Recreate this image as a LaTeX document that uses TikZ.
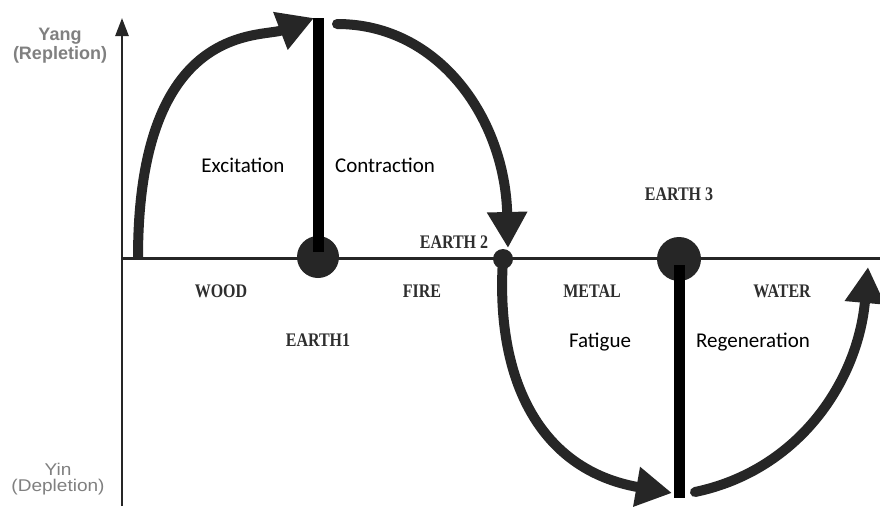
\documentclass[tikz,border=0pt]{standalone}
\usepackage{fontspec}
\setmainfont{Liberation Serif}
\newfontfamily\calibfont{Carlito}
\newfontfamily\arialfont{Liberation Sans}
\usetikzlibrary{arrows.meta}
\definecolor{ink}{HTML}{262626}
\definecolor{axisgray}{HTML}{808080}
\definecolor{labink}{HTML}{2E2E2E}
\newcommand{\tallcaps}[1]{\scalebox{1}[1.2]{#1}}
\newcommand{\wideyin}[1]{\scalebox{1.12}[1]{#1}}
\begin{document}
\begin{tikzpicture}[x=1pt,y=-1pt,
  axisline/.style={draw=ink,line width=2.6pt},
  flow/.style={draw=ink,line width=10pt,-{Triangle[length=36pt,width=38pt]}},
  dot/.style={circle,fill=ink,draw=none,inner sep=0pt},
  bar/.style={draw=black,line width=11pt,line cap=butt},
  callab/.style={font=\calibfont\fontsize{21}{25}\selectfont,text=black,anchor=base,inner sep=0pt},
  serlab/.style={font=\fontsize{16}{19}\selectfont\bfseries,text=labink,anchor=base,inner sep=0pt},
  yanglab/.style={font=\arialfont\bfseries\fontsize{18}{21}\selectfont,text=axisgray,anchor=base,inner sep=0pt},
  yinlab/.style={font=\arialfont\fontsize{17}{20}\selectfont,text=axisgray,anchor=base,inner sep=0pt}
]
\useasboundingbox (0,0) rectangle (880,506);
\fill[white] (0,0) rectangle (880,506);

% axes
\coordinate (ybot) at (122,506);
\coordinate (ytop) at (122,18);
\coordinate (xl) at (122,258.5);
\coordinate (xr) at (880,258.5);
\draw[axisline,-{Triangle[length=18pt,width=13pt]}] (ybot) -- (ytop);
\draw[axisline] (xl) -- (xr);

% flow arcs
\coordinate (a1s) at (138,258);
\coordinate (a1e) at (314,18);
\coordinate (a2s) at (337,24);
\coordinate (a2e) at (508,248);
\coordinate (a3s) at (503,259);
\coordinate (a3e) at (672,493);
\coordinate (a4s) at (695,492);
\coordinate (a4e) at (868,267);
\draw[flow] (a1s) .. controls (138,20) and (262,38) .. (a1e);
\draw[flow,line cap=round] (a2s) .. controls (440,24) and (505,120) .. (a2e);
\draw[flow] (a3s) .. controls (495,380) and (540,470) .. (a3e);
\draw[flow,line cap=round] (a4s) .. controls (800,470) and (858,380) .. (a4e);

% earth dots
\node[dot,minimum size=42pt] (e1) at (318,257) {};
\node[dot,minimum size=20pt] (e2) at (503,259) {};
\node[dot,minimum size=44pt] (e3) at (679,259) {};

% black bars
\coordinate (b1t) at (318,18);
\coordinate (b1b) at (318,252);
\coordinate (b2t) at (679,265);
\coordinate (b2b) at (679,498);
\draw[bar] (b1t) -- (b1b);
\draw[bar] (b2t) -- (b2b);

% axis labels
\node[yanglab] (yang) at (60,40) {Yang};
\node[yanglab] (repl) at (60,59) {(Repletion)};
\node[yinlab] (yin) at (58,475) {\wideyin{Yin}};
\node[yinlab] (depl) at (58,491) {\wideyin{(Depletion)}};

% phase labels
\node[callab] (exc) at (243,172) {Excitation};
\node[callab] (con) at (385,172) {Contraction};
\node[callab] (fat) at (600,347) {Fatigue};
\node[callab] (reg) at (753,347) {Regeneration};

% element labels
\node[serlab] (earth2) at (454,248) {\tallcaps{EARTH 2}};
\node[serlab] (earth3) at (679,200) {\tallcaps{EARTH 3}};
\node[serlab] (wood) at (221,297) {\tallcaps{WOOD}};
\node[serlab] (fire) at (422,297) {\tallcaps{FIRE}};
\node[serlab] (metal) at (592,297) {\tallcaps{METAL}};
\node[serlab] (water) at (782,297) {\tallcaps{WATER}};
\node[serlab] (earth1) at (318,346) {\tallcaps{EARTH1}};
\end{tikzpicture}
\end{document}
